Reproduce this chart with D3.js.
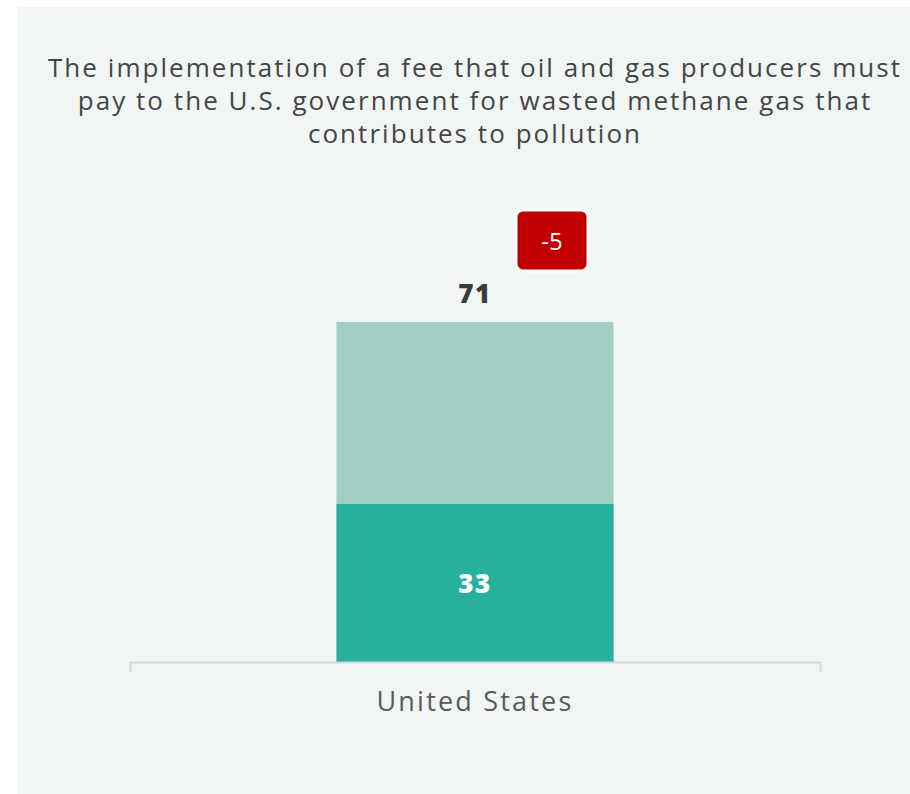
<!DOCTYPE html>
<html><head><meta charset="utf-8">
<script src="https://cdn.jsdelivr.net/npm/d3@7"></script>
<style>
html,body{margin:0;padding:0;background:#ffffff;}
svg{display:block;}
</style></head>
<body>
<svg id="chart" width="910" height="794"></svg>
<script>
const titleLines = ["The implementation of a fee that oil and gas producers must","pay to the U.S. government for wasted methane gas that","contributes to pollution"];
const categories = ["United States"];
const totalValues = [71];
const baseValues = [33];
const changeValues = [-5];

const svg = d3.select("#chart");
const FONT = "'Open Sans', 'Noto Sans', sans-serif";

svg.append("rect").attr("x",18).attr("y",7).attr("width",892).attr("height",787).attr("fill","#f1f6f4");

// title
const t = svg.append("text").attr("text-anchor","middle").attr("fill","#454545")
  .style("font-family",FONT).style("font-size","26px");
titleLines.forEach((l,i)=>{
  t.append("tspan").attr("x",475).attr("y",77+i*33).text(l);
});
const first = t.select("tspan");
const w0 = first.node().getComputedTextLength();
const ls = (852 - w0) / (titleLines[0].length - 1);
t.style("letter-spacing", ls + "px");

const x = d3.scaleBand().domain(categories).range([130,820]).paddingInner(0.2).paddingOuter(0.3);
const y = d3.scaleLinear().domain([0,100]).range([662,183]);

const bw = 277;
const g = svg.append("g");
categories.forEach((c,i)=>{
  const cx = x(c)+x.bandwidth()/2;
  g.append("rect").attr("x",cx-bw/2).attr("width",bw)
    .attr("y",y(totalValues[i])).attr("height",y(0)-y(totalValues[i])).attr("fill","#a2cfc4");
  g.append("rect").attr("x",cx-bw/2).attr("width",bw)
    .attr("y",y(baseValues[i])).attr("height",y(0)-y(baseValues[i])).attr("fill","#27b09d");
  g.append("text").attr("x",cx).attr("y",y(totalValues[i])-19).attr("text-anchor","middle")
    .attr("fill","#3b3b3b").style("font-family",FONT).style("font-weight","800").style("font-size","26px")
    .style("letter-spacing","1.5px").text(totalValues[i]);
  g.append("text").attr("x",cx).attr("y",(y(baseValues[i])+y(0))/2+10).attr("text-anchor","middle")
    .attr("fill","#ffffff").style("font-family",FONT).style("font-weight","800").style("font-size","26px")
    .style("letter-spacing","1.5px").text(baseValues[i]);
  // badge
  const bx = cx+77, by = y(totalValues[i])-112;
  g.append("rect").attr("x",bx-36).attr("y",by).attr("width",72).attr("height",61).attr("rx",7)
    .attr("fill","#c00000").attr("stroke","#ffffff").attr("stroke-width",3);
  g.append("text").attr("x",bx).attr("y",by+40).attr("text-anchor","middle").attr("fill","#ffffff")
    .style("font-family",FONT).style("font-size","24px").text(changeValues[i]);
});

// axis
const ax = svg.append("g").attr("transform","translate(0,662)")
  .call(d3.axisBottom(x).tickSize(0).tickSizeOuter(10).tickPadding(30));
ax.select(".domain").attr("stroke","#d9d9d9").attr("stroke-width",2);
ax.selectAll(".tick text").attr("fill","#5a5a5a").style("font-family",FONT).style("font-size","27px")
  .style("letter-spacing","2.2px");
</script>
</body></html>
